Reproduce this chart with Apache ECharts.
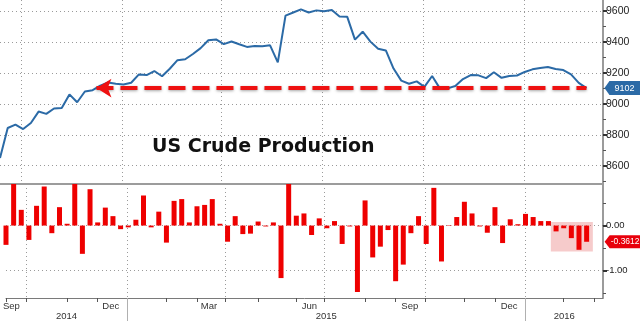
<!DOCTYPE html>
<html><head><meta charset="utf-8">
<script src="https://cdn.jsdelivr.net/npm/echarts@6/dist/echarts.min.js"></script>
<style>html,body{margin:0;padding:0;background:#fff}#c{width:640px;height:321px}</style>
</head><body><div id="c"></div>
<script>
// ---------- data ----------
const startDate = '2014-09-12';          // first weekly observation (Friday)
const weekCount = 77;
const production = [
  8650, 8844, 8866, 8837, 8876, 8950, 8935, 8970, 8973, 9061,
  9010, 9080, 9088, 9117, 9138, 9130, 9125, 9136, 9190, 9186,
  9212, 9178, 9227, 9282, 9288, 9322, 9360, 9411, 9416, 9386,
  9403, 9385, 9368, 9374, 9372, 9378, 9268, 9570, 9590, 9610,
  9590, 9604, 9598, 9606, 9565, 9562, 9415, 9466, 9402, 9356,
  9345, 9228, 9150, 9130, 9145, 9110, 9180, 9100, 9100, 9115,
  9160, 9186, 9184, 9166, 9204, 9168, 9180, 9183, 9206, 9223,
  9232, 9238, 9225, 9218, 9190, 9135, 9102
];
const weeklyChangePct = [
  -0.43, 0.95, 0.35, -0.32, 0.44, 0.87, -0.17, 0.41, 0.04, 0.95,
  -0.63, 0.81, 0.07, 0.40, 0.21, -0.08, -0.04, 0.13, 0.67, -0.04,
  0.31, -0.38, 0.55, 0.59, 0.07, 0.43, 0.46, 0.59, 0.04, -0.36,
  0.21, -0.19, -0.18, 0.09, -0.02, 0.07, -1.17, 0.95, 0.22, 0.27,
  -0.21, 0.16, -0.06, 0.10, -0.41, -0.02, -1.48, 0.56, -0.71, -0.47,
  -0.10, -1.24, -0.87, -0.17, 0.21, -0.41, 0.84, -0.80, 0.01, 0.19,
  0.53, 0.27, -0.02, -0.16, 0.41, -0.39, 0.14, 0.03, 0.26, 0.19,
  0.10, 0.10, -0.13, -0.06, -0.28, -0.54, -0.3612
];
const prodTicks = [8600, 8800, 9000, 9200, 9400, 9600];
const prodMinorTicks = [8500, 8700, 8900, 9100, 9300, 9500];
const changeTicks = [0, -1];
const changeMinorTicks = [0.5, -0.5, -1.5];
const monthNames = ['Jan','Feb','Mar','Apr','May','Jun','Jul','Aug','Sep','Oct','Nov','Dec'];
const titleText = 'US Crude Production';
const arrowFromIndex = 12.5;               // arrow points back toward this week
const highlightFromIndex = 72;             // shaded recent weeks

// ---------- derived ----------
const DAY = 86400000;
const t0 = Date.parse(startDate + 'T00:00:00Z');
const dates = Array.from({length: weekCount}, (_, i) => t0 + i * 7 * DAY);
const xMin = t0;
const xMax = Date.UTC(2016, 2, 12);
const last = weekCount - 1;

const quarterStarts = [], monthTicks = [], monthLabels = [], yearTicks = [], yearCenters = [];
for (let y = 2014; y <= 2016; y++) {
  for (let m = 0; m < 12; m++) {
    const first = Date.UTC(y, m, 1);
    if (m % 3 === 0) {
      if (first > xMin && first < xMax) { quarterStarts.push(first); monthTicks.push(first); }
    } else {
      const d = dates.find(t => new Date(t).getUTCFullYear() === y && new Date(t).getUTCMonth() === m);
      if (d !== undefined) monthTicks.push(d);
      else { const nm = Date.UTC(y, m, 4); if (nm > xMin && nm < xMax) monthTicks.push(nm); }
    }
    if (m % 3 === 2) {
      const mid = Date.UTC(y, m, 17);
      if (mid > xMin && mid < xMax) monthLabels.push(mid);
    }
  }
  const ys = Math.max(xMin, Date.UTC(y, 0, 1)), ye = Math.min(xMax, Date.UTC(y + 1, 0, 1));
  if (ye > ys) yearCenters.push((ys + ye) / 2);
  if (Date.UTC(y, 0, 1) > xMin) yearTicks.push(Date.UTC(y, 0, 1));
}
const arrowStart = t0 + arrowFromIndex * 7 * DAY;

const lineColor = '#2b6aa6';
const barColor = '#ee0000';
const gridColor = '#9a9a9a';
const axisColor = '#7a7a7a';
const labelFont = 'Liberation Sans';
const tagPath = 'path://M0,5 L5,0 L36,0 L36,10 L5,10 Z';

const dotted = { show: true, lineStyle: { color: gridColor, type: [1, 3], width: 1 } };

const chart = echarts.init(document.getElementById('c'), null, { renderer: 'canvas' });
chart.setOption({
  animation: false,
  backgroundColor: '#fff',
  title: {
    text: titleText, left: 147, top: 133,
    textStyle: { fontFamily: 'DejaVu Sans', fontWeight: 'bold', fontSize: 19, color: '#111' }
  },
  grid: [
    { left: 0, right: 37, top: 0, height: 184 },
    { left: 0, right: 37, top: 184, height: 114 }
  ],
  xAxis: [
    { // top panel: quarter split lines + grey separator
      type: 'value', gridIndex: 0, min: xMin, max: xMax,
      axisLine: { show: true, onZero: false, lineStyle: { color: '#9c9c9c', width: 2 } },
      axisTick: { show: false, customValues: quarterStarts },
      axisLabel: { show: false },
      splitLine: dotted
    },
    { // bottom panel: month ticks + labels
      type: 'value', gridIndex: 1, min: xMin, max: xMax,
      axisLine: { show: true, onZero: false, lineStyle: { color: axisColor, width: 1 } },
      axisTick: { show: true, customValues: monthTicks, length: 4, lineStyle: { color: '#555' } },
      axisLabel: {
        show: true, customValues: monthLabels, margin: 3, hideOverlap: false,
        showMinLabel: true, showMaxLabel: true,
        fontFamily: labelFont, fontSize: 9.5, color: '#333',
        formatter: v => monthNames[new Date(v).getUTCMonth()]
      },
      splitLine: { show: false }
    },
    { // bottom panel: quarter split lines
      type: 'value', gridIndex: 1, min: xMin, max: xMax,
      axisLine: { show: false, onZero: false },
      axisTick: { show: false, customValues: quarterStarts },
      axisLabel: { show: false },
      splitLine: dotted
    },
    { // years row
      type: 'value', gridIndex: 1, min: xMin, max: xMax, position: 'bottom',
      axisLine: { show: false, onZero: false },
      axisTick: { show: true, customValues: yearTicks, length: 23, lineStyle: { color: '#b0b0b0' } },
      axisLabel: {
        show: true, customValues: yearCenters, margin: 13, hideOverlap: false,
        fontFamily: labelFont, fontSize: 9.5, color: '#333',
        formatter: v => String(new Date(v).getUTCFullYear())
      },
      splitLine: { show: false }
    }
  ],
  yAxis: [
    {
      type: 'value', gridIndex: 0, position: 'right', min: 8482, max: 9671,
      axisLine: { show: true, lineStyle: { color: axisColor, width: 1.5 } },
      axisTick: { show: true, customValues: prodTicks, length: 4, lineStyle: { color: '#333', width: 2 } },
      axisLabel: { show: true, customValues: prodTicks, margin: 3, fontFamily: labelFont, fontSize: 10.5, color: '#222',
        formatter: v => String(v) },
      splitLine: dotted
    },
    {
      type: 'value', gridIndex: 0, position: 'right', min: 8482, max: 9671,
      axisLine: { show: false },
      axisTick: { show: true, customValues: prodMinorTicks, length: 3, lineStyle: { color: '#555' } },
      axisLabel: { show: false }, splitLine: { show: false }
    },
    {
      type: 'value', gridIndex: 1, position: 'right', min: -1.614, max: 0.926,
      axisLine: { show: true, lineStyle: { color: axisColor, width: 1.5 } },
      axisTick: { show: true, customValues: changeTicks, length: 4, lineStyle: { color: '#333', width: 2 } },
      axisLabel: { show: true, customValues: changeTicks, margin: 3, fontFamily: labelFont, fontSize: 9.5, color: '#222',
        formatter: v => v.toFixed(2) },
      splitLine: dotted
    },
    {
      type: 'value', gridIndex: 1, position: 'right', min: -1.614, max: 0.926,
      axisLine: { show: false },
      axisTick: { show: true, customValues: changeMinorTicks, length: 3, lineStyle: { color: '#555' } },
      axisLabel: { show: false }, splitLine: { show: false }
    }
  ],
  series: [
    {
      type: 'line', xAxisIndex: 0, yAxisIndex: 0,
      data: dates.map((d, i) => [d, production[i]]),
      showSymbol: false, symbol: 'none',
      lineStyle: { color: lineColor, width: 2 },
      z: 3,
      markLine: {
        silent: true, symbol: ['arrow', 'none'], symbolSize: [14, 15],
        label: { show: false },
        lineStyle: { color: '#ee1111', width: 4, type: [17, 7], opacity: 1,
          shadowBlur: 3, shadowColor: 'rgba(0,0,0,0.35)', shadowOffsetY: 1 },
        itemStyle: { color: '#ee1111' },
        data: [[{ coord: [arrowStart, production[last]] }, { coord: [dates[last], production[last]] }]]
      },
      markPoint: {
        silent: true, symbol: tagPath, symbolSize: [36, 14], symbolKeepAspect: false, symbolOffset: [36, 0],
        itemStyle: { color: lineColor },
        label: { show: true, position: 'inside', offset: [2, 0], color: '#fff', fontFamily: labelFont, fontSize: 9,
          formatter: p => String(p.value) },
        data: [{ coord: [dates[last], production[last]], value: production[last] }]
      }
    },
    {
      type: 'bar', xAxisIndex: 1, yAxisIndex: 2,
      data: dates.map((d, i) => [d, weeklyChangePct[i]]),
      barWidth: 5,
      itemStyle: { color: barColor },
      markArea: {
        silent: true,
        itemStyle: { color: 'rgba(236,140,140,0.45)' },
        data: [[
          { coord: [dates[highlightFromIndex] - 4.8 * DAY, 0.08] },
          { coord: [dates[last] + 5.7 * DAY, Math.min(...weeklyChangePct.slice(highlightFromIndex)) - 0.04] }
        ]]
      },
      markPoint: {
        silent: true, symbol: tagPath, symbolSize: [36, 13], symbolKeepAspect: false, symbolOffset: [36, 0],
        itemStyle: { color: '#e8000b' },
        label: { show: true, position: 'inside', offset: [2.5, 0], color: '#fff', fontFamily: labelFont, fontSize: 8.5,
          formatter: p => p.value.toFixed(4) },
        data: [{ coord: [dates[last], weeklyChangePct[last]], value: weeklyChangePct[last] }]
      }
    }
  ]
});
</script>
</body></html>
